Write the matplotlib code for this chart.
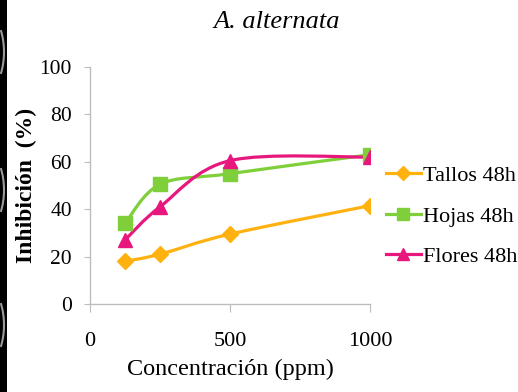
import matplotlib
matplotlib.use("Agg")
import matplotlib.pyplot as plt
import numpy as np
from matplotlib.path import Path
from matplotlib.patches import PathPatch, Rectangle, Arc
from matplotlib.lines import Line2D

# data
conc = [125, 250, 500, 1000]
tallos = [18, 21, 29.5, 41.5]
hojas = [34, 50.5, 55, 63]
flores = [27, 41, 60.5, 62]

series_names = ["Tallos 48h", "Hojas 48h", "Flores 48h"]
series_colors = ["#FFB10F", "#7FCF3A", "#E8177E"]
series_markers = ["D", "s", "^"]

plt.rcParams['font.family'] = ['Liberation Serif', 'DejaVu Serif']


def smooth_path(x, y):
    # excel-like smoothed line (catmull-rom as cubic bezier)
    pts = np.column_stack([x, y]).astype(float)
    n = len(pts)
    verts = [pts[0]]
    codes = [Path.MOVETO]
    for i in range(n - 1):
        p0 = pts[i - 1] if i > 0 else pts[i]
        p1 = pts[i]
        p2 = pts[i + 1]
        p3 = pts[i + 2] if i + 2 < n else pts[i + 1]
        verts += [p1 + (p2 - p0) / 6, p2 - (p3 - p1) / 6, p2]
        codes += [Path.CURVE4] * 3
    return Path(verts, codes)


fig = plt.figure(figsize=(5.18, 3.92), dpi=100)
fig.patch.set_facecolor('white')

# dark slide strip on the left edge
fig.patches.append(Rectangle((0, 0), 7 / 518, 1, transform=fig.transFigure,
                             facecolor='black', edgecolor='none', zorder=0))
for yc in [52, 190, 325]:
    fig.patches.append(Arc((-16 / 518, 1 - yc / 392), 40 / 518, 80 / 392,
                           theta1=-60, theta2=60, transform=fig.transFigure,
                           edgecolor='#9a9a9a', lw=1.5, zorder=1))

ax = fig.add_axes([90 / 518, 1 - 304 / 392, 280 / 518, 237 / 392])

for vals, name, col, mk in zip([tallos, hojas, flores], series_names,
                               series_colors, series_markers):
    ax.add_patch(PathPatch(smooth_path(conc, vals), facecolor='none',
                           edgecolor=col, lw=2.3, capstyle='round'))
    ms = 8 if mk == "D" else 9.5
    ax.plot(conc, vals, linestyle='none', marker=mk, markersize=ms,
            color=col, label=name)

ax.set_xlim(0, 1000)
ax.set_ylim(0, 100)
ax.set_xticks([0, 500, 1000])
ax.set_yticks([0, 20, 40, 60, 80, 100])

for s in ['top', 'right']:
    ax.spines[s].set_visible(False)
for s in ['left', 'bottom']:
    ax.spines[s].set_color('#bdbdbd')
    ax.spines[s].set_linewidth(1.0)

ax.tick_params(axis='y', direction='out', length=4, color='#bdbdbd',
               labelsize=15.5, pad=9)
ax.tick_params(axis='x', direction='out', length=6, color='#bdbdbd',
               labelsize=16, pad=14)

ax.set_ylabel('Inhibición  (%)', fontsize=17, fontweight='bold')
ax.yaxis.set_label_coords(-0.19, 0.5)
ax.set_xlabel('Concentración (ppm)', fontsize=17.5, labelpad=6)

fig.text(277 / 518, 1 - 22 / 392, 'A. alternata', fontsize=19,
         style='italic', ha='center', va='center')

handles = [Line2D([0], [0], color=c, lw=2.3, marker=m,
                  markersize=(7 if m == "D" else 8.5))
           for c, m in zip(series_colors, series_markers)]
ax.legend(handles, series_names, loc='center left',
          bbox_to_anchor=(1.0, 0.37), frameon=False, fontsize=16,
          handlelength=1.6, handletextpad=0.1, labelspacing=0.9,
          borderaxespad=0.3)

fig.savefig('out.png', dpi=100)
